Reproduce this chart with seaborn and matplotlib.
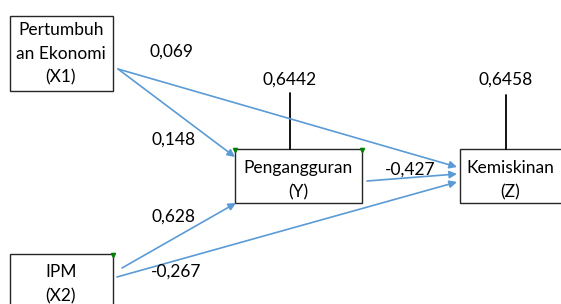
import matplotlib
matplotlib.use("Agg")
import matplotlib.pyplot as plt
from matplotlib.patches import Rectangle, FancyArrowPatch
import seaborn as sns

# path model nodes: label, box (left, top, width, height) in pixel-like units
node_names = ["X1", "X2", "Y", "Z"]
node_labels = ["Pertumbuh\nan Ekonomi\n(X1)", "IPM\n(X2)", "Pengangguran\n(Y)", "Kemiskinan\n(Z)"]
node_boxes = [(10, 16, 103, 75), (10, 254, 103, 60), (235, 149, 127, 54), (460, 149, 110, 54)]
label_centers = [(61, 54), (61, 284), (298, 180), (510, 180)]

# path coefficients
path_from = ["X1", "X1", "X2", "X2", "Y"]
path_to = ["Y", "Z", "Y", "Z", "Z"]
path_coef = ["0,148", "0,069", "0,628", "-0,267", "-0,427"]
arrow_start = [(118, 69), (118, 69), (122, 268), (117, 277), (367, 181)]
arrow_end = [(235, 157), (457, 167), (236, 203), (457, 182), (457, 174)]
coef_pos = [(174, 140), (172, 52), (174, 217), (176, 272), (410, 170)]

# R squared / error terms for endogenous variables
r2_nodes = ["Y", "Z"]
r2_values = ["0,6442", "0,6458"]
r2_x = [290, 506]
r2_line_top = [93, 95]

sns.set_theme(style="white")
plt.rcParams['font.family'] = ['Lato', 'DejaVu Sans']

fig = plt.figure(figsize=(5.61, 3.04), dpi=100)
ax = fig.add_axes([0, 0, 1, 1])
ax.set_xlim(0, 561)
ax.set_ylim(304, 0)
ax.axis("off")

blue = "#5b9bd5"
fs = 12.5

# boxes
for label, (x, y, w, h), (cx, cy) in zip(node_labels, node_boxes, label_centers):
    ax.add_patch(Rectangle((x, y), w, h, facecolor="white", edgecolor="#262626", lw=1.0, zorder=2))
    ax.text(cx, cy, label, ha="center", va="center", fontsize=fs,
            linespacing=1.6, color="black", zorder=3)

# arrows
for (x0, y0), (x1, y1) in zip(arrow_start, arrow_end):
    ax.add_patch(FancyArrowPatch((x0, y0), (x1, y1), arrowstyle="-|>", mutation_scale=11,
                                 color=blue, lw=1.2, shrinkA=0, shrinkB=0, zorder=4))

for txt, (x, y) in zip(path_coef, coef_pos):
    ax.text(x, y, txt, ha="center", va="center", fontsize=fs, color="black", zorder=5)

# r2 lines and labels
idx = {n: i for i, n in enumerate(node_names)}
for n, v, x, top in zip(r2_nodes, r2_values, r2_x, r2_line_top):
    bx, by, bw, bh = node_boxes[idx[n]]
    ax.plot([x, x], [top, by], color="black", lw=1.3, zorder=3)
    ax.text(x, 80, v, ha="center", va="center", fontsize=fs, color="black")

# small green corner marks
for (cx, cy) in [(235, 149), (362, 149), (113, 254)]:
    ax.plot(cx, cy + 1, marker="v", color="green", markersize=3, zorder=5)

fig.savefig("out.png", dpi=100)
